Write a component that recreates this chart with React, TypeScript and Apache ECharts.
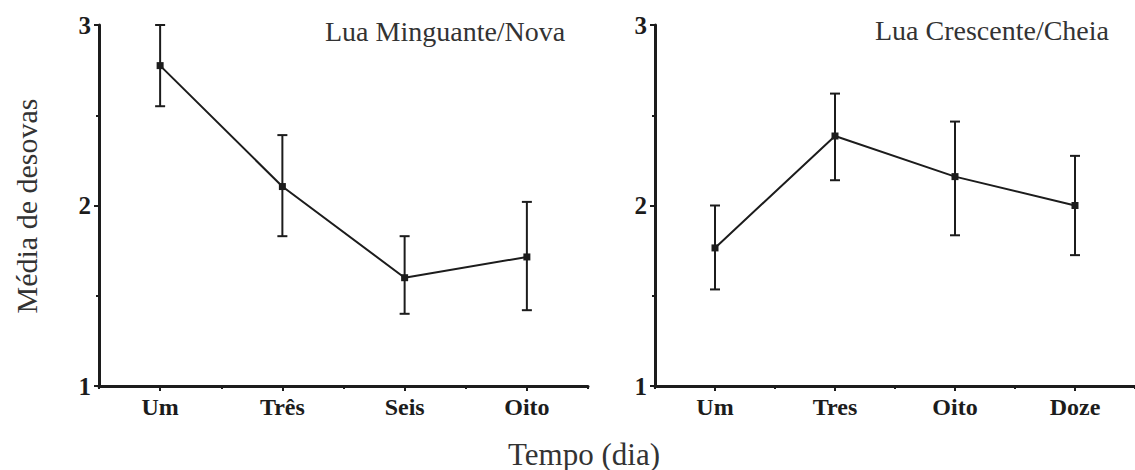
import React, { useEffect, useRef } from "react";
import * as echarts from "echarts";

const leftCategories = ["Um", "Três", "Seis", "Oito"];
const leftMeans = [2.775, 2.105, 1.6, 1.715];
const leftLow = [2.55, 1.83, 1.4, 1.42];
const leftHigh = [3.0, 2.39, 1.83, 2.02];

const rightCategories = ["Um", "Tres", "Oito", "Doze"];
const rightMeans = [1.765, 2.385, 2.16, 2.0];
const rightLow = [1.535, 2.14, 1.835, 1.725];
const rightHigh = [2.0, 2.62, 2.465, 2.275];

const leftTitle = "Lua Minguante/Nova";
const rightTitle = "Lua Crescente/Cheia";
const yAxisTitle = "Média de desovas";
const xAxisTitle = "Tempo (dia)";

const INK = "#1c1c1c";
const SERIF = '"Liberation Serif", "Times New Roman", serif';

function errorData(low: number[], high: number[]) {
  return low.map((l, i) => [i, l, high[i]]);
}

function errorRender(params: any, api: any) {
  const x = api.value(0);
  const lo = api.coord([x, api.value(1)]);
  const hi = api.coord([x, api.value(2)]);
  const w = 5;
  const style = { stroke: INK, lineWidth: 2 };
  return {
    type: "group",
    children: [
      { type: "line", shape: { x1: lo[0], y1: lo[1], x2: hi[0], y2: hi[1] }, style },
      { type: "line", shape: { x1: lo[0] - w, y1: lo[1], x2: lo[0] + w, y2: lo[1] }, style },
      { type: "line", shape: { x1: hi[0] - w, y1: hi[1], x2: hi[0] + w, y2: hi[1] }, style },
    ],
  };
}

function mainX(gridIndex: number, cats: string[]) {
  return {
    type: "category",
    gridIndex,
    data: cats,
    boundaryGap: true,
    position: "bottom",
    axisLine: { show: true, onZero: false, lineStyle: { color: INK, width: 3 } },
    axisTick: { show: true, alignWithLabel: true, length: 5, lineStyle: { color: INK, width: 2 } },
    axisLabel: {
      show: true,
      margin: 9,
      color: INK,
      fontFamily: SERIF,
      fontWeight: "bold",
      fontSize: 24,
    },
    splitLine: { show: false },
  };
}

function minorX(gridIndex: number, cats: string[]) {
  return {
    type: "category",
    gridIndex,
    data: cats,
    boundaryGap: true,
    position: "bottom",
    axisLine: { show: false },
    axisTick: { show: true, alignWithLabel: false, interval: 0, length: 3, lineStyle: { color: INK, width: 2 } },
    axisLabel: { show: false },
    splitLine: { show: false },
  };
}

function yAx(gridIndex: number) {
  return {
    type: "value",
    gridIndex,
    min: 1,
    max: 3,
    interval: 1,
    axisLine: { show: true, lineStyle: { color: INK, width: 3 } },
    axisTick: { show: true, length: 5, lineStyle: { color: INK, width: 2 } },
    minorTick: { show: true, splitNumber: 2, length: 3, lineStyle: { color: INK, width: 2 } },
    axisLabel: {
      margin: 8,
      color: INK,
      fontFamily: SERIF,
      fontWeight: "bold",
      fontSize: 25,
    },
    splitLine: { show: false },
    minorSplitLine: { show: false },
  };
}

export default function App() {
  const ref = useRef<HTMLDivElement>(null);
  useEffect(() => {
    if (!ref.current) return;
    const chart = echarts.init(ref.current, undefined, { renderer: "svg" });
    const option: any = {
      animation: false,
      backgroundColor: "#ffffff",
      grid: [
        { left: 99, top: 25, width: 489, height: 361 },
        { left: 655, top: 25, width: 489, height: 361 },
      ],
      xAxis: [mainX(0, leftCategories), minorX(0, leftCategories), mainX(1, rightCategories), minorX(1, rightCategories)],
      yAxis: [yAx(0), yAx(1)],
      series: [
        {
          type: "custom",
          xAxisIndex: 0,
          yAxisIndex: 0,
          renderItem: errorRender,
          encode: { x: 0, y: [1, 2] },
          data: errorData(leftLow, leftHigh),
          z: 2,
        },
        {
          type: "line",
          xAxisIndex: 0,
          yAxisIndex: 0,
          data: leftMeans,
          symbol: "rect",
          symbolSize: 7,
          lineStyle: { color: INK, width: 2 },
          itemStyle: { color: INK },
          z: 3,
        },
        {
          type: "custom",
          xAxisIndex: 2,
          yAxisIndex: 1,
          renderItem: errorRender,
          encode: { x: 0, y: [1, 2] },
          data: errorData(rightLow, rightHigh),
          z: 2,
        },
        {
          type: "line",
          xAxisIndex: 2,
          yAxisIndex: 1,
          data: rightMeans,
          symbol: "rect",
          symbolSize: 7,
          lineStyle: { color: INK, width: 2 },
          itemStyle: { color: INK },
          z: 3,
        },
      ],
      graphic: [
        {
          type: "text",
          x: 325,
          y: 31,
          style: { text: leftTitle, fontFamily: SERIF, fontSize: 28, fill: "#333", textAlign: "left", textVerticalAlign: "middle" },
        },
        {
          type: "text",
          x: 875,
          y: 30,
          style: { text: rightTitle, fontFamily: SERIF, fontSize: 28, fill: "#333", textAlign: "left", textVerticalAlign: "middle" },
        },
        {
          type: "text",
          x: 26,
          y: 206,
          rotation: Math.PI / 2,
          style: { text: yAxisTitle, fontFamily: SERIF, fontSize: 30, fill: "#333", textAlign: "center", textVerticalAlign: "middle" },
        },
        {
          type: "text",
          x: 584,
          y: 454,
          style: { text: xAxisTitle, fontFamily: SERIF, fontSize: 31, fill: "#333", textAlign: "center", textVerticalAlign: "middle" },
        },
      ],
    };
    chart.setOption(option);
    return () => chart.dispose();
  }, []);
  return <div ref={ref} style={{ position: "fixed", left: 0, top: 0, width: 1135, height: 470 }} />;
}
